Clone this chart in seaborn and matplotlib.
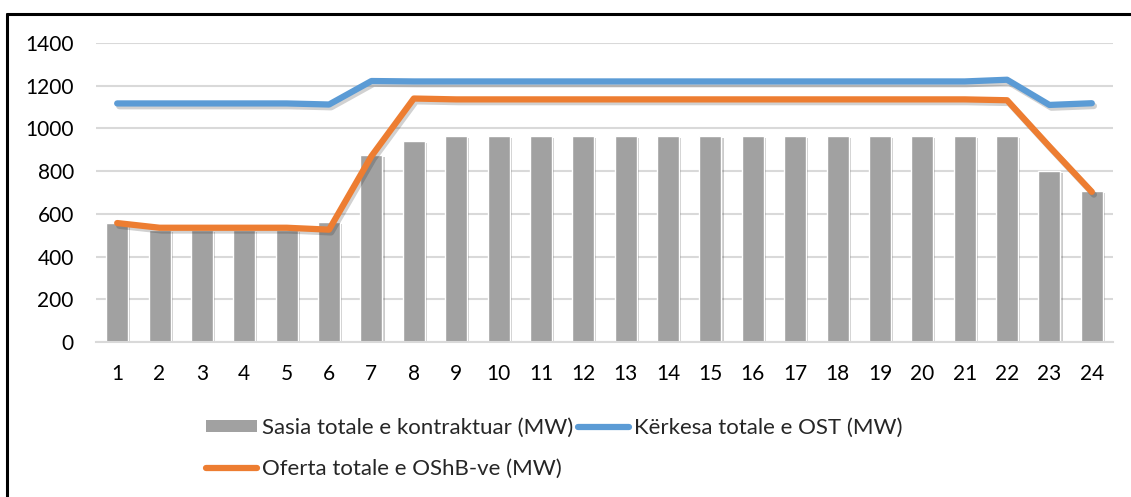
import matplotlib
matplotlib.use("Agg")
import matplotlib.pyplot as plt
import matplotlib.patheffects as pe
from matplotlib.lines import Line2D
from matplotlib.patches import Patch
import numpy as np
import pandas as pd
import seaborn as sns

hours = list(range(1, 25))
contracted = [557, 525, 525, 525, 525, 560, 875, 941, 964, 964, 964, 964,
              964, 964, 964, 964, 964, 964, 964, 964, 964, 964, 802, 707]
demand_ost = [1117, 1117, 1117, 1117, 1117, 1112, 1222, 1220, 1220, 1220, 1220, 1220,
              1220, 1220, 1220, 1220, 1220, 1220, 1220, 1220, 1220, 1228, 1110, 1118]
offer_oshb = [557, 535, 535, 535, 535, 526, 870, 1140, 1136, 1136, 1136, 1136,
              1136, 1136, 1136, 1136, 1136, 1136, 1136, 1136, 1136, 1132, 915, 703]

label_bar = "Sasia totale e kontraktuar (MW)"
label_ost = "Kërkesa totale e OST (MW)"
label_oshb = "Oferta totale e OShB-ve (MW)"

df = pd.DataFrame({"hour": hours, "contracted": contracted,
                   "ost": demand_ost, "oshb": offer_oshb})

sns.set_theme(style="white")
plt.rcParams["font.family"] = ["Lato", "DejaVu Sans"]
plt.rcParams["font.size"] = 15

fig = plt.figure(figsize=(11.31, 4.97), dpi=100)
ax = fig.add_axes([96 / 1131, 1 - 342 / 497, (1113 - 96) / 1131, (342 - 43) / 497])

bar_color = "#a1a1a1"
blue = "#5b9bd5"
orange = "#ed7d31"

sns.barplot(data=df, x="hour", y="contracted", native_scale=True, width=0.52,
            color=bar_color, saturation=1, ax=ax, zorder=2)
for p in ax.patches:
    p.set_path_effects([pe.SimplePatchShadow(offset=(1.5, -1.5), alpha=0.25), pe.Normal()])

shadow = [pe.SimpleLineShadow(offset=(1.5, -2), alpha=0.2), pe.Normal()]
sns.lineplot(data=df, x="hour", y="ost", color=blue, lw=4.5, ax=ax, zorder=3,
             solid_capstyle="round", solid_joinstyle="round", path_effects=shadow)
sns.lineplot(data=df, x="hour", y="oshb", color=orange, lw=4.5, ax=ax, zorder=4,
             solid_capstyle="round", solid_joinstyle="round", path_effects=shadow)

ax.set_xlim(0.5, 24.5)
ax.set_ylim(0, 1400)
ax.set_xticks(hours)
ax.set_xticklabels([str(h) for h in hours])
ax.set_yticks(range(0, 1401, 200))
ax.set_xlabel("")
ax.set_ylabel("")
ax.yaxis.grid(True, color="#d9d9d9", lw=1.5, zorder=0)
ax.set_axisbelow(True)
for s in ["top", "right", "left"]:
    ax.spines[s].set_visible(False)
ax.spines["bottom"].set_color("#d9d9d9")
ax.spines["bottom"].set_linewidth(1.5)
ax.tick_params(axis="y", length=0, pad=16, labelsize=15, colors="#000000")
ax.tick_params(axis="x", length=0, pad=16, labelsize=15, colors="#000000")

handles = [Patch(facecolor=bar_color, edgecolor="none"),
           Line2D([], [], color=orange, lw=4.5, solid_capstyle="round"),
           Line2D([], [], color=blue, lw=4.5, solid_capstyle="round")]
labels = [label_bar, label_oshb, label_ost]
fig.legend(handles, labels, ncol=2, loc="upper left", frameon=False,
           bbox_to_anchor=(206 / 1131, 1 - 418 / 497), fontsize=16,
           handlelength=2.3, handleheight=0.5, handletextpad=0.22,
           columnspacing=0.2, labelspacing=0.95, borderpad=0, borderaxespad=0)

# outer frame (top and left edges visible in reference)
fig.add_artist(Line2D([7 / 1131, 1.0], [1 - 14 / 497, 1 - 14 / 497],
                      transform=fig.transFigure, color="black", lw=2.2))
fig.add_artist(Line2D([7 / 1131, 7 / 1131], [0.0, 1 - 14 / 497],
                      transform=fig.transFigure, color="black", lw=2.2))

fig.savefig("out.png", dpi=100)
plt.close(fig)
